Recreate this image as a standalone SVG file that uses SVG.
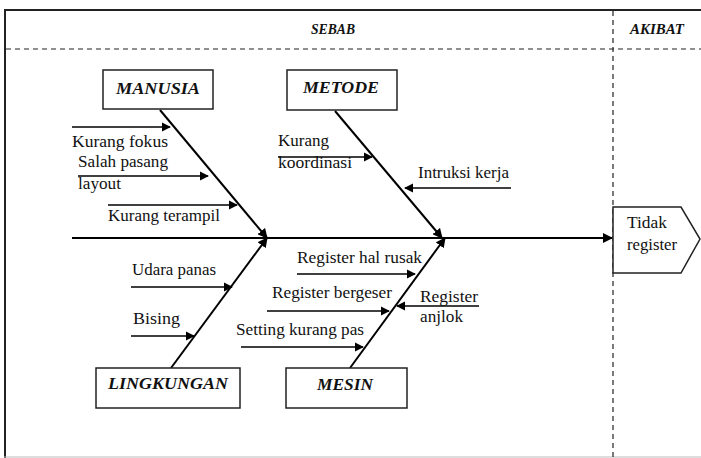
<svg xmlns="http://www.w3.org/2000/svg" width="701" height="458" viewBox="0 0 701 458" font-family="'Liberation Serif', 'Times New Roman', serif">
<defs>
<marker id="ah" viewBox="0 0 10 10" refX="9" refY="5" markerWidth="5" markerHeight="5" orient="auto" markerUnits="strokeWidth">
<path d="M0,0 L10,5 L0,10 z" fill="#000"/>
</marker>
<marker id="ahs" viewBox="0 0 10 10" refX="9" refY="5" markerWidth="7" markerHeight="7" orient="auto" markerUnits="strokeWidth">
<path d="M0,0 L10,5 L0,10 z" fill="#000"/>
</marker>
</defs>
<style>
text{font-family:'Liberation Serif','Times New Roman',serif;fill:#111;}
.lbl{font-size:16px;}
.hd{font-size:14px;font-weight:bold;font-style:italic;}
.bx{font-size:17px;font-weight:bold;font-style:italic;text-anchor:middle;}
.box{fill:#fff;stroke:#222;stroke-width:1.5;}
.bone{stroke:#000;stroke-width:2;fill:none;marker-end:url(#ah);}
.sub{stroke:#000;stroke-width:1.3;fill:none;marker-end:url(#ahs);}
.dash{stroke:#222;stroke-width:1.2;stroke-dasharray:5,4;fill:none;}
</style>
<rect width="701" height="458" fill="#fff"/>
<g id="frame">
<line x1="4" y1="10" x2="701" y2="10" stroke="#222" stroke-width="2"/>
<line x1="5" y1="10" x2="5" y2="458" stroke="#222" stroke-width="2"/>
<line x1="4" y1="457" x2="701" y2="457" stroke="#bbb" stroke-width="1"/>
<line class="dash" x1="6" y1="49" x2="701" y2="49"/>
<line class="dash" x1="613" y1="11" x2="613" y2="458"/>
<text class="hd" x="333" y="34" text-anchor="middle" textLength="44" lengthAdjust="spacingAndGlyphs">SEBAB</text>
<text class="hd" x="657" y="34" text-anchor="middle" textLength="54" lengthAdjust="spacingAndGlyphs">AKIBAT</text>
</g>
<g id="connectors">
<line class="bone" x1="72" y1="238" x2="612" y2="238"/>
<line class="bone" x1="160" y1="110" x2="267" y2="238"/>
<line class="bone" x1="335" y1="111" x2="442" y2="238"/>
<line class="bone" x1="171" y1="368" x2="267" y2="238"/>
<line class="bone" x1="350" y1="368" x2="445" y2="238"/>
<line class="sub" x1="72" y1="127" x2="170" y2="127"/>
<line class="sub" x1="78" y1="176" x2="208" y2="176"/>
<line class="sub" x1="108" y1="205" x2="237" y2="205"/>
<line class="sub" x1="278" y1="157" x2="372" y2="157"/>
<line class="sub" x1="511" y1="188" x2="405" y2="188"/>
<line class="sub" x1="131" y1="287" x2="232" y2="287"/>
<line class="sub" x1="131" y1="336" x2="194" y2="336"/>
<line class="sub" x1="297" y1="274" x2="415" y2="274"/>
<line class="sub" x1="267" y1="311" x2="389" y2="311"/>
<line class="sub" x1="479" y1="306" x2="397" y2="306"/>
<line class="sub" x1="241" y1="347" x2="363" y2="347"/>
</g>
<g id="manusia">
<rect class="box" x="103" y="70" width="110" height="39"/>
<text class="bx" x="158" y="94" textLength="84" lengthAdjust="spacingAndGlyphs">MANUSIA</text>
</g>
<g id="metode">
<rect class="box" x="287" y="70" width="110" height="40"/>
<text class="bx" x="341" y="93" textLength="76" lengthAdjust="spacingAndGlyphs">METODE</text>
</g>
<g id="lingkungan">
<rect class="box" x="96" y="368" width="144" height="40"/>
<text class="bx" x="168" y="389" textLength="120" lengthAdjust="spacingAndGlyphs">LINGKUNGAN</text>
</g>
<g id="mesin">
<rect class="box" x="286" y="368" width="121" height="40"/>
<text class="bx" x="345" y="390" textLength="56" lengthAdjust="spacingAndGlyphs">MESIN</text>
</g>
<g id="akibat">
<path class="box" d="M613,207 L681,207 L700,239 L681,273 L613,273 Z"/>
<text class="lbl" x="627" y="228" textLength="40" lengthAdjust="spacingAndGlyphs">Tidak</text>
<text class="lbl" x="627" y="250" textLength="50" lengthAdjust="spacingAndGlyphs">register</text>
</g>
<g id="causes">
<text class="lbl" x="72" y="147" textLength="96" lengthAdjust="spacingAndGlyphs">Kurang fokus</text>
<text class="lbl" x="78" y="167" textLength="90" lengthAdjust="spacingAndGlyphs">Salah pasang</text>
<text class="lbl" x="78" y="189" textLength="43" lengthAdjust="spacingAndGlyphs">layout</text>
<text class="lbl" x="108" y="221" textLength="112" lengthAdjust="spacingAndGlyphs">Kurang terampil</text>
<text class="lbl" x="278" y="146" textLength="51" lengthAdjust="spacingAndGlyphs">Kurang</text>
<text class="lbl" x="278" y="168" textLength="74" lengthAdjust="spacingAndGlyphs">koordinasi</text>
<text class="lbl" x="418" y="178" textLength="91" lengthAdjust="spacingAndGlyphs">Intruksi kerja</text>
<text class="lbl" x="132" y="275" textLength="84" lengthAdjust="spacingAndGlyphs">Udara panas</text>
<text class="lbl" x="133" y="324" textLength="47" lengthAdjust="spacingAndGlyphs">Bising</text>
<text class="lbl" x="297" y="263" textLength="125" lengthAdjust="spacingAndGlyphs">Register hal rusak</text>
<text class="lbl" x="272" y="298" textLength="120" lengthAdjust="spacingAndGlyphs">Register bergeser</text>
<text class="lbl" x="420" y="302" textLength="58" lengthAdjust="spacingAndGlyphs">Register</text>
<text class="lbl" x="420" y="322" textLength="43" lengthAdjust="spacingAndGlyphs">anjlok</text>
<text class="lbl" x="236" y="335" textLength="128" lengthAdjust="spacingAndGlyphs">Setting kurang pas</text>
</g>
</svg>
